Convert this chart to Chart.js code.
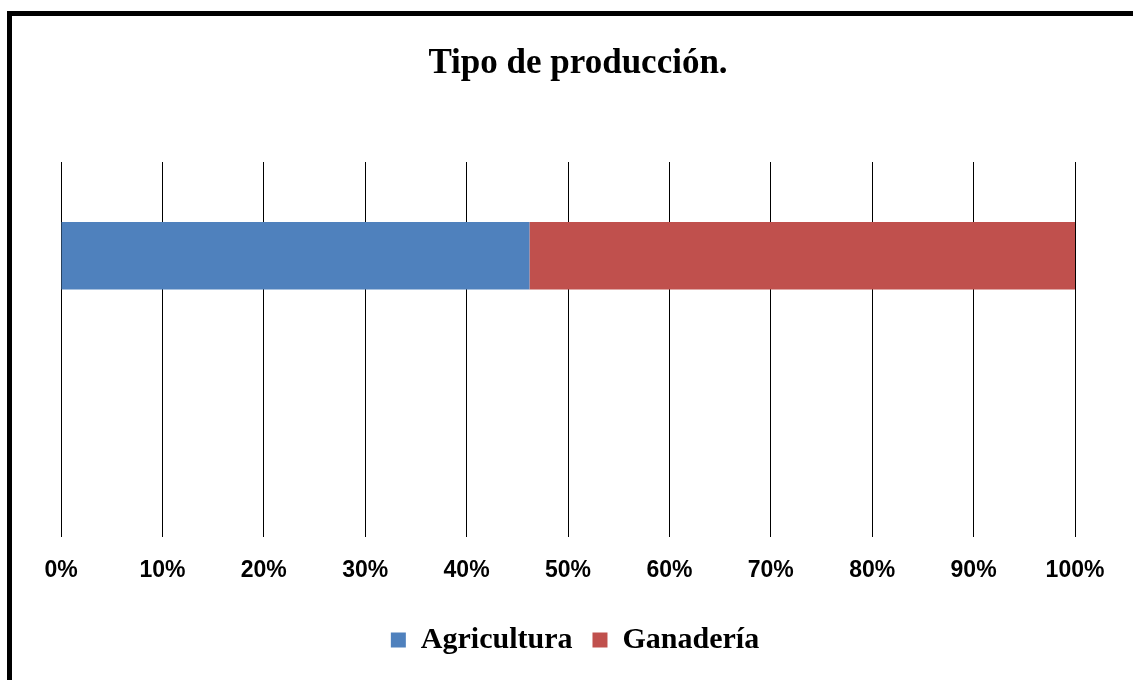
<!DOCTYPE html>
<html>
<head>
<meta charset="utf-8">
<script src="https://cdn.jsdelivr.net/npm/chart.js@4"></script>
<style>
  html, body { margin: 0; padding: 0; background: #fff; overflow: hidden; }
  #wrap { position: relative; width: 1133px; height: 680px; }
  #frame { position: absolute; left: 7px; top: 11px; width: 1200px; height: 800px;
           border-left: 5px solid #000; border-top: 5px solid #000; pointer-events: none; }
</style>
</head>
<body>
<div id="wrap">
  <canvas id="prodChart" width="1133" height="680"></canvas>
  <div id="frame"></div>
</div>
<script>
// Data
const categories = ["", ""];
const agricultura = [46.2, null];
const ganaderia = [53.8, null];
const tickStep = 10;

// nudge title and legend a bit to the right, like the original sheet
const shiftBoxes = {
  id: "shiftBoxes",
  afterLayout(chart) {
    const t = chart.titleBlock;
    if (t) { t.left += 10; t.right += 10; }
    const l = chart.legend;
    if (l) { l.left += 7; l.right += 7; }
  }
};

const ctx = document.getElementById("prodChart").getContext("2d");
new Chart(ctx, {
  type: "bar",
  data: {
    labels: categories,
    datasets: [
      { label: "Agricultura", data: agricultura, backgroundColor: "#4F81BD", borderWidth: 0,
        barPercentage: 0.9, categoryPercentage: 0.4 },
      { label: "Ganadería", data: ganaderia, backgroundColor: "#C0504D", borderWidth: 0,
        barPercentage: 0.9, categoryPercentage: 0.4 }
    ]
  },
  options: {
    indexAxis: "y",
    responsive: false,
    animation: false,
    layout: { padding: { left: 61, right: 58, top: 0, bottom: 15 } },
    scales: {
      x: {
        stacked: true, min: 0, max: 100,
        border: { display: false },
        grid: { color: "#000", lineWidth: 1, drawTicks: false },
        ticks: {
          stepSize: tickStep, padding: 20, color: "#000",
          font: { family: "Liberation Sans", weight: "bold", size: 23 },
          callback: v => v + "%"
        },
        afterFit: scale => { scale.height = 68; }
      },
      y: { stacked: true, display: false }
    },
    plugins: {
      title: {
        display: true, text: "Tipo de producción.", color: "#000",
        font: { family: "Liberation Serif", weight: "bold", size: 35 },
        padding: { top: 43, bottom: 77 }
      },
      legend: {
        position: "bottom",
        labels: {
          color: "#000", boxWidth: 15, boxHeight: 15, padding: 20,
          font: { family: "Liberation Serif", weight: "bold", size: 30 }
        }
      },
      tooltip: { enabled: false }
    }
  },
  plugins: [shiftBoxes]
});
</script>
</body>
</html>
